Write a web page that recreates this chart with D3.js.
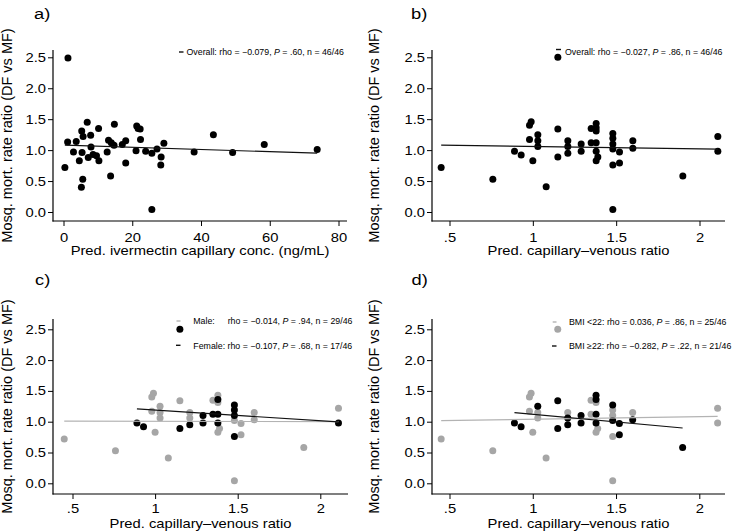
<!DOCTYPE html>
<html><head><meta charset="utf-8">
<script src="https://cdn.jsdelivr.net/npm/d3@7"></script>
<style>
body{margin:0;background:#fff}
text{font-family:"Liberation Sans",Arial,Helvetica,sans-serif;fill:#000}
</style>
</head><body>
<svg id="chart" width="733" height="532"></svg>
<script>
// ---------- DATA ----------
// Panel a: predicted ivermectin capillary concentration vs mosquito mortality rate ratio
const concA = [1.3,1.2,0.4,3.7,2.9,4.6,5.3,5.7,5.4,5.6,5.2,6.9,7.9,8.0,7.2,8.6,9.6,10.3,10.2,13.1,12.7,13.9,14.7,14.8,13.7,17.1,18.1,18.1,21.3,21.7,22.3,21.1,22.4,23.9,25.7,25.7,27.2,28.4,28.3,29.2,38.0,43.6,49.2,58.4,73.8];
const mmrA  = [2.49,1.13,0.72,1.14,0.97,0.83,1.31,1.22,0.96,0.53,0.40,1.45,1.24,1.05,0.88,0.93,0.91,0.83,1.35,1.16,0.97,1.12,1.08,1.42,0.58,1.09,1.15,0.79,1.39,1.35,1.34,0.99,1.17,0.98,0.95,0.04,1.02,0.89,0.76,1.11,0.97,1.25,0.96,1.09,1.01];

// Panels b-d: predicted capillary-venous ratio vs mosquito mortality rate ratio
const ratio = [0.45,0.76,0.89,0.93,0.98,0.99,0.98,1.00,1.03,1.03,1.03,1.08,1.15,1.15,1.15,1.21,1.21,1.21,1.29,1.29,1.35,1.35,1.38,1.38,1.38,1.38,1.38,1.39,1.38,1.48,1.48,1.48,1.48,1.48,1.48,1.52,1.52,1.60,1.60,1.90,2.11,2.11];
const mmr   = [0.72,0.53,0.98,0.92,1.40,1.46,1.17,0.83,1.25,1.15,1.06,0.41,2.50,1.34,0.89,1.15,1.06,0.95,1.10,0.98,1.35,1.12,1.43,1.36,1.31,1.12,0.98,0.89,0.83,1.27,1.19,1.10,1.02,0.76,0.04,0.97,0.79,1.15,1.03,0.58,1.22,0.98];
const sex   = ["M","M","F","F","M","M","M","M","M","M","M","M","F","M","F","M","M","F","F","F","M","F","M","F","M","F","F","M","M","F","F","F","M","F","M","M","M","M","M","M","M","F"];
const bmi   = ["L","L","H","H","L","L","L","L","H","L","L","L","L","H","H","L","H","H","H","H","L","L","H","H","L","H","H","L","L","H","L","L","H","L","L","H","H","L","H","H","L","L"];

// Axis ticks
const yTicks = [0,0.5,1,1.5,2,2.5];
const xTicksA = [0,20,40,60,80];
const xTicksR = [0.5,1,1.5,2];
const xTickLabelsR = [".5","1","1.5","2"];

// Fitted lines (end points)
const fitA       = {x:[0.4,73.8],  y:[1.08,0.95]};
const fitB       = {x:[0.45,2.11], y:[1.08,1.015]};
const fitCMale   = {x:[0.45,2.11], y:[1.01,1.00]};
const fitCFemale = {x:[0.89,2.11], y:[1.207,0.996]};
const fitDLow    = {x:[0.45,2.11], y:[1.017,1.088]};
const fitDHigh   = {x:[0.89,1.90], y:[1.147,0.898]};

// Legend texts
const legA = ["Overall: rho = \u22120.079, ", "P", " =  .60, n = 46/46"];
const legB = ["Overall: rho = \u22120.027, ", "P", " = .86, n = 46/46"];
const legC1 = ["rho = \u22120.014, ", "P", " = .94, n = 29/46"];
const legC2 = ["Female: rho = \u22120.107, ", "P", " = .68, n = 17/46"];
const legD1 = ["BMI <22: rho = 0.036, ", "P", " = .86, n = 25/46"];
const legD2 = ["BMI \u226522: rho = \u22120.282, ", "P", " = .22, n = 21/46"];

const yTitle = "Mosq. mort. rate ratio (DF vs MF)";
const xTitleA = "Pred. ivermectin capillary conc. (ng/mL)";
const xTitleR = "Pred. capillary\u2013venous ratio";

// ---------- DRAW ----------
const GREY = "#a6a6a6", GREYLINE = "#b3b3b3";
const SX = 1.18;      // horizontal widening of axis text
const FS = 12.5;      // axis text size
const svg = d3.select("#chart");
svg.append("rect").attr("width",733).attr("height",532).attr("fill","#fff");

function wideText(g, x, y, str, size, anchor){
  return g.append("text").attr("transform",`translate(${x},${y}) scale(${SX},1)`)
    .attr("text-anchor",anchor||"start").attr("font-size",size).text(str);
}

function panel(cfg){
  const g = svg.append("g");
  const x = d3.scaleLinear().domain(cfg.xd).range(cfg.xr);
  const y = d3.scaleLinear().domain([0,2.5]).range(cfg.yr);
  const ax = d3.axisLeft(y).tickValues(yTicks).tickFormat(d3.format(".1f")).tickSize(5).tickPadding(2);
  const ay = g.append("g").attr("transform",`translate(${cfg.l},0)`).call(ax);
  const bx = d3.axisBottom(x).tickValues(cfg.xt).tickFormat((d,i)=>cfg.xl[i]).tickSize(5).tickPadding(cfg.xpad);
  const axb = g.append("g").attr("transform",`translate(0,${cfg.b})`).call(bx);
  [ay,axb].forEach(a=>{
    a.select(".domain").remove();
    a.selectAll("line").attr("stroke","#000").attr("stroke-width",1);
    a.selectAll("text").attr("font-size",FS).attr("font-family",'"Liberation Sans",Arial,sans-serif')
      .attr("fill","#000").attr("transform",`scale(${SX},1)`);
  });
  ay.selectAll("text").attr("x",-7/SX);
  g.append("line").attr("x1",cfg.l).attr("x2",cfg.l).attr("y1",cfg.t).attr("y2",cfg.b+0.5).attr("stroke","#000").attr("stroke-width",1.2);
  g.append("line").attr("x1",cfg.l-0.5).attr("x2",cfg.r).attr("y1",cfg.b).attr("y2",cfg.b).attr("stroke","#000").attr("stroke-width",1.2);
  g.append("text").attr("transform",`translate(${cfg.ytx},${(cfg.t+cfg.b)/2}) rotate(-90)`)
    .attr("text-anchor","middle").attr("font-size",14.5).text(yTitle);
  wideText(g,(cfg.l+cfg.r)/2,cfg.xty,cfg.xtitle,FS,"middle");
  wideText(g,cfg.lx,cfg.ly,cfg.letter,15.5);
  return {g,x,y};
}

function legendLine(g, x1, x2, yy, color){
  g.append("line").attr("x1",x1).attr("x2",x2).attr("y1",yy).attr("y2",yy)
   .attr("stroke",color).attr("stroke-width",1.4);
}
function legendText(g, xx, yy, parts){
  const t = g.append("text").attr("x",xx).attr("y",yy).attr("font-size",8.8);
  parts.forEach((p,i)=>{
    const ts = t.append("tspan").text(p);
    if(i===1) ts.attr("font-style","italic");
  });
  return t;
}
function fitLine(p, fit, color){
  p.g.append("line").attr("x1",p.x(fit.x[0])).attr("x2",p.x(fit.x[1]))
    .attr("y1",p.y(fit.y[0])).attr("y2",p.y(fit.y[1]))
    .attr("stroke",color).attr("stroke-width",1.2);
}
function dots(p, xs, ys, color, filter){
  const idx = d3.range(xs.length).filter(filter || (()=>true));
  p.g.append("g").selectAll("circle").data(idx).join("circle")
    .attr("cx",i=>p.x(xs[i])).attr("cy",i=>p.y(ys[i])).attr("r",3.5).attr("fill",color);
}

// Panel a
const pa = panel({l:53,r:347,t:50,b:221,xd:[0,80],xr:[63.5,338.5],yr:[212,57.3],xpad:7,
  xt:xTicksA,xl:xTicksA.map(String),ytx:12,xty:255,xtitle:xTitleA,lx:34,ly:19,letter:"a)"});
dots(pa, concA, mmrA, "#000");
fitLine(pa, fitA, "#111");
legendLine(pa.g,179,183.5,52,"#111");
legendText(pa.g,186.5,55,legA);

// Panel b
const pb = panel({l:432,r:725,t:50,b:221,xd:[0.5,2],xr:[449.5,699.5],yr:[212,57.3],xpad:7,
  xt:xTicksR,xl:xTickLabelsR,ytx:379,xty:255,xtitle:xTitleR,lx:411,ly:19,letter:"b)"});
dots(pb, ratio, mmr, "#000");
fitLine(pb, fitB, "#111");
legendLine(pb.g,556,561,49.5,"#111");
legendText(pb.g,565,55,legB);

// Panel c
const pc = panel({l:53,r:348,t:319,b:494,xd:[0.5,2],xr:[72.5,320.3],yr:[483.3,329.3],xpad:5,
  xt:xTicksR,xl:xTickLabelsR,ytx:12,xty:528,xtitle:xTitleR,lx:35,ly:285,letter:"c)"});
dots(pc, ratio, mmr, GREY, i=>sex[i]==="M");
dots(pc, ratio, mmr, "#000", i=>sex[i]==="F");
fitLine(pc, fitCMale, GREYLINE);
fitLine(pc, fitCFemale, "#111");
legendLine(pc.g,176.5,180.5,321,GREYLINE);
pc.g.append("text").attr("x",193.3).attr("y",324.3).attr("font-size",8.8).text("Male:");
legendText(pc.g,227.7,324.3,legC1);
legendLine(pc.g,176,180.5,345.3,"#111");
legendText(pc.g,193.3,348.5,legC2);

// Panel d
const pd = panel({l:432,r:725,t:319,b:494,xd:[0.5,2],xr:[449.5,699.3],yr:[483.3,329.3],xpad:5,
  xt:xTicksR,xl:xTickLabelsR,ytx:379,xty:528,xtitle:xTitleR,lx:411.5,ly:285,letter:"d)"});
dots(pd, ratio, mmr, GREY, i=>bmi[i]==="L");
dots(pd, ratio, mmr, "#000", i=>bmi[i]==="H");
fitLine(pd, fitDLow, GREYLINE);
fitLine(pd, fitDHigh, "#111");
legendLine(pd.g,552.7,556.5,322,GREYLINE);
legendText(pd.g,569,325.3,legD1);
legendLine(pd.g,552,556.5,346,"#111");
legendText(pd.g,569,349.3,legD2);
</script>
</body></html>
